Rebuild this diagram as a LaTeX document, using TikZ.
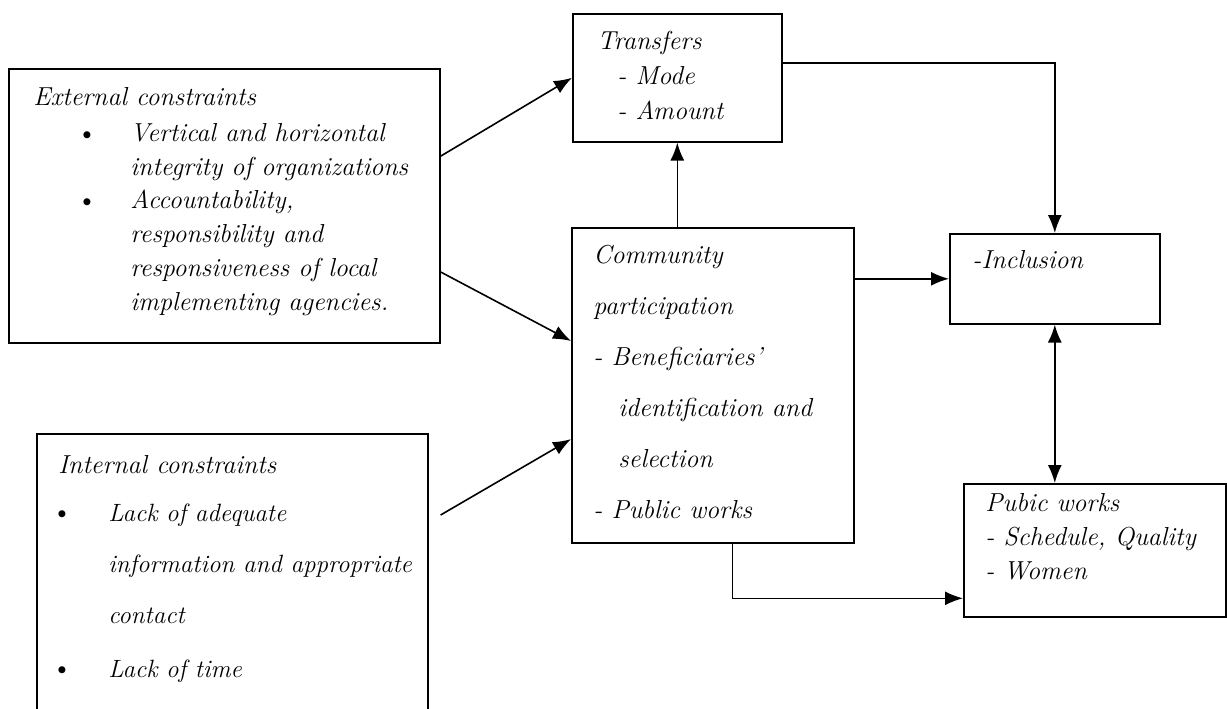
\documentclass[tikz,border=0pt]{standalone}
\usetikzlibrary{arrows.meta,calc}
\begin{document}
\begin{tikzpicture}[x=0.5pt,y=-0.5pt,
    box/.style={draw, thick, inner sep=0pt, anchor=north west},
    txt/.style={anchor=north west, inner sep=0pt, align=left, font=\itshape\fontsize{13}{17}\selectfont},
    loose/.style={txt, font=\itshape\fontsize{13}{25.5}\selectfont},
    dot/.style={inner sep=0pt, font=\fontsize{13}{15}\selectfont},
    arr/.style={thick, -{Latex[length=9pt,width=7pt]}},
    twoway/.style={thick, {Latex[length=9pt,width=7pt]}-{Latex[length=9pt,width=7pt]}}]
    \useasboundingbox (0,0) rectangle (1227,708);

    % boxes
    \node[box, minimum width=215.5pt, minimum height=137pt] (ext) at (8,68) {};
    \node[box, minimum width=195.5pt, minimum height=150pt] (int) at (36,433) {};
    \node[box, minimum width=104.5pt, minimum height=64pt] (trans) at (572,13) {};
    \node[box, minimum width=141pt, minimum height=157.5pt] (comm) at (571,227) {};
    \node[box, minimum width=105pt, minimum height=45pt] (incl) at (949,233) {};
    \node[box, minimum width=131pt, minimum height=66.5pt] (pub) at (963,483) {};

    % external constraints
    \node[txt] (exttitle) at (33,87) {External constraints};
    \node[dot] (eb1) at (87,137) {\textbullet};
    \node[txt] (ext1) at (130,123) {Vertical and horizontal\\integrity of organizations};
    \node[dot] (eb2) at (87,204) {\textbullet};
    \node[txt] (ext2) at (130,190) {Accountability,\\responsibility and\\responsiveness of local\\implementing agencies.};

    % internal constraints
    \node[txt] (inttitle) at (58,455) {Internal constraints};
    \node[dot] (ib1) at (62,516) {\textbullet};
    \node[loose, font=\itshape\fontsize{12.5}{25.5}\selectfont] (int1) at (108,503) {Lack of adequate\\information and appropriate\\contact};
    \node[dot] (ib2) at (62,672) {\textbullet};
    \node[txt, font=\itshape\fontsize{12.5}{17}\selectfont] (int2) at (108,659) {Lack of time};

    % right side
    \node[txt, font=\itshape\fontsize{13}{17.5}\selectfont] (transtxt) at (597,31)
        {Transfers\\\hspace*{10pt}- Mode\\\hspace*{10pt}- Amount};
    \node[loose] (commtxt) at (593,245) {Community\\participation\\- Beneficiaries'\\\hspace*{12.5pt}identification and\\\hspace*{12.5pt}selection\\- Public works};
    \node[txt] (incltxt) at (972,250) {-Inclusion};
    \node[txt] (pubtxt) at (985,493) {Pubic works\\- Schedule, Quality\\- Women};

    % connectors
    \draw[arr] ($(ext.north east)!0.32!(ext.south east)$) -- (trans.west);
    \draw[arr] ($(ext.north east)!0.74!(ext.south east)$) -- ($(comm.north west)!0.36!(comm.south west)$);
    \draw[arr] ([xshift=6pt,yshift=-41pt]int.north east) -- ($(comm.north west)!0.67!(comm.south west)$);
    \draw[arr] (trans.south |- comm.north) -- (trans.south);
    \draw[arr] ([yshift=7.5pt]trans.east) -| (incl.north);
    \draw[arr] (comm.east |- incl.west) -- (incl.west);
    \draw[twoway] (incl.south) -- (incl.south |- pub.north);
    \draw[arr] ($(comm.south west)!0.57!(comm.south east)$) |- ([yshift=-24pt]pub.west);
\end{tikzpicture}
\end{document}
